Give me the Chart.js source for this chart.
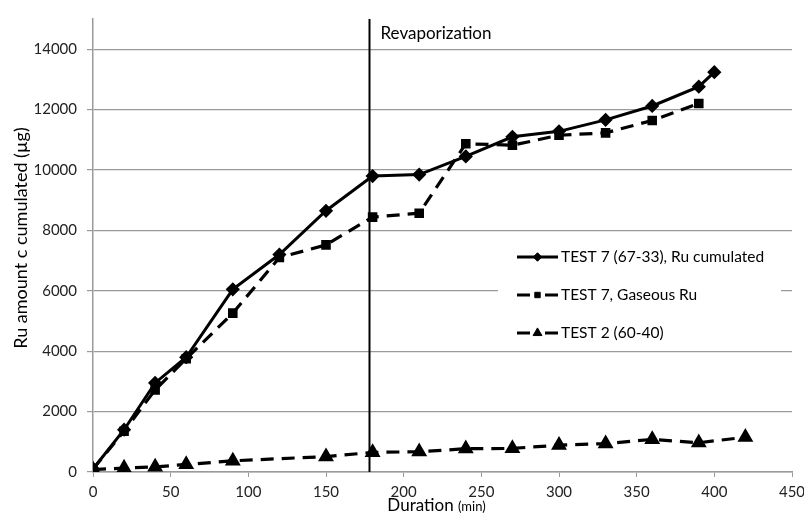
<!DOCTYPE html>
<html>
<head>
<meta charset="utf-8">
<script src="https://cdn.jsdelivr.net/npm/chart.js@4/dist/chart.umd.min.js"></script>
<style>
  html, body { margin: 0; padding: 0; background: #fff; }
  canvas { display: block; }
</style>
</head>
<body>
<canvas id="c" width="804" height="521"></canvas>
<script>
// ---- Data ----
const test7Minutes = [0, 20, 40, 60, 90, 120, 150, 180, 210, 240, 270, 300, 330, 360, 390, 400];
const test7Cumulated = [100, 1400, 2950, 3800, 6050, 7200, 8650, 9800, 9850, 10450, 11100, 11280, 11660, 12120, 12760, 13240];

const gaseousMinutes = [0, 20, 40, 60, 90, 120, 150, 180, 210, 240, 270, 300, 330, 360, 390];
const test7Gaseous = [100, 1350, 2720, 3750, 5260, 7100, 7520, 8440, 8570, 10870, 10820, 11150, 11230, 11640, 12200];

const test2Minutes = [0, 20, 40, 60, 90, 150, 180, 210, 240, 270, 300, 330, 360, 390, 420];
const test2Values = [80, 130, 170, 250, 370, 510, 650, 670, 770, 780, 890, 940, 1080, 970, 1150];

const seriesLabels = ["TEST 7 (67-33), Ru cumulated", "TEST 7, Gaseous Ru", "TEST 2 (60-40)"];
const yTickValues = [0, 2000, 4000, 6000, 8000, 10000, 12000, 14000];
const xTickValues = [0, 50, 100, 150, 200, 250, 300, 350, 400, 450];
const revaporizationAt = 177.5;
const revaporizationLabel = "Revaporization";
const xTitle = "Duration";
const xTitleUnit = "(min)";
const yTitle = "Ru amount c cumulated (µg)";

const FONT = "Lato, 'Open Sans', sans-serif";
const GRID = "#9a9a9a";

function pts(xs, ys) { return xs.map((x, i) => ({ x: x, y: ys[i] })); }

const datasets = [
  { label: seriesLabels[0], data: pts(test7Minutes, test7Cumulated),
    borderColor: "#000", backgroundColor: "#000", borderWidth: 3,
    pointStyle: "rectRot", pointRadius: 5, pointHoverRadius: 5, tension: 0 },
  { label: seriesLabels[1], data: pts(gaseousMinutes, test7Gaseous),
    borderColor: "#000", backgroundColor: "#000", borderWidth: 3.2, borderDash: [13, 8],
    pointStyle: "rect", pointRadius: 4.5, pointHoverRadius: 4.5, tension: 0 },
  { label: seriesLabels[2], data: pts(test2Minutes, test2Values),
    borderColor: "#000", backgroundColor: "#000", borderWidth: 3.2, borderDash: [13, 8],
    pointStyle: "triangle", pointRadius: 6, pointHoverRadius: 6, tension: 0 }
];

const overlay = {
  id: "overlay",
  afterDatasetsDraw(chart) {
    const ctx = chart.ctx;
    const xs = chart.scales.x, area = chart.chartArea;
    ctx.save();
    // revaporization line
    const vx = Math.round(xs.getPixelForValue(revaporizationAt)) + 0.5;
    ctx.strokeStyle = "#000"; ctx.lineWidth = 2; ctx.setLineDash([]);
    ctx.beginPath(); ctx.moveTo(vx, area.top); ctx.lineTo(vx, area.bottom); ctx.stroke();
    ctx.fillStyle = "#000";
    ctx.font = "17px " + FONT;
    ctx.textBaseline = "alphabetic"; ctx.textAlign = "left";
    ctx.fillText(revaporizationLabel, vx + 11, 39);

    // legend box
    const lx0 = 498, lx1 = 781, ly0 = 238, ly1 = 350;
    ctx.fillStyle = "#fff";
    ctx.fillRect(lx0, ly0, lx1 - lx0, ly1 - ly0);
    const rows = [257, 295, 333];
    chart.data.datasets.forEach((ds, i) => {
      const y = rows[i];
      ctx.strokeStyle = "#000";
      ctx.fillStyle = "#000";
      ctx.lineWidth = 3;
      ctx.setLineDash([]);
      ctx.beginPath();
      if (ds.borderDash) {
        ctx.moveTo(517, y); ctx.lineTo(530, y);
        ctx.moveTo(545, y); ctx.lineTo(558, y);
      } else {
        ctx.moveTo(517, y); ctx.lineTo(558, y);
      }
      ctx.stroke();
      ctx.lineWidth = 1;
      Chart.helpers.drawPoint(ctx, {
        pointStyle: ds.pointStyle, radius: ds.pointRadius * 0.85, borderWidth: 1, rotation: 0
      }, 537.5, y);
      ctx.font = "15.5px " + FONT;
      ctx.textBaseline = "middle";
      ctx.fillStyle = "#000";
      ctx.fillText(ds.label, 561, y);
    });

    // axis titles
    ctx.fillStyle = "#000";
    ctx.textBaseline = "alphabetic";
    ctx.font = "17px " + FONT;
    const w1 = ctx.measureText(xTitle + " ").width;
    ctx.font = "13px " + FONT;
    const w2 = ctx.measureText(xTitleUnit).width;
    const cx = (area.left + area.right) / 2 - 6;
    const sx = cx - (w1 + w2) / 2;
    ctx.font = "17px " + FONT;
    ctx.fillText(xTitle + " ", sx, 511);
    ctx.font = "13px " + FONT;
    ctx.fillText(xTitleUnit, sx + w1, 511);

    ctx.translate(27, 238);
    ctx.rotate(-Math.PI / 2);
    ctx.font = "18px " + FONT;
    ctx.textAlign = "center";
    ctx.fillText(yTitle, 0, 0);
    ctx.restore();
  }
};

new Chart(document.getElementById("c"), {
  type: "line",
  data: { datasets: datasets },
  options: {
    responsive: false,
    animation: false,
    events: [],
    layout: { padding: { top: 15, right: 0, left: 0, bottom: 0 } },
    plugins: { legend: { display: false }, tooltip: { enabled: false } },
    scales: {
      x: {
        type: "linear", min: 0, max: 450,
        afterFit(s) { s.height = 49; s.paddingRight = 12; },
        afterBuildTicks(s) { s.ticks = xTickValues.map(v => ({ value: v })); },
        ticks: { color: "#222", font: { family: FONT, size: 15 }, padding: 6, maxRotation: 0,
                 callback: v => String(v) },
        grid: { drawOnChartArea: false, drawTicks: true, tickLength: 5, color: GRID },
        border: { display: true, color: GRID, width: 1.5 }
      },
      y: {
        type: "linear", min: 0, max: 15000,
        afterFit(s) { s.width = 93; },
        afterBuildTicks(s) { s.ticks = yTickValues.map(v => ({ value: v })); },
        ticks: { color: "#222", font: { family: FONT, size: 15 }, padding: 10,
                 callback: v => String(v) },
        grid: { drawOnChartArea: true, drawTicks: true, tickLength: 6, color: GRID, lineWidth: 1.2 },
        border: { display: true, color: GRID, width: 1.5 }
      }
    }
  },
  plugins: [overlay]
});
</script>
</body>
</html>
